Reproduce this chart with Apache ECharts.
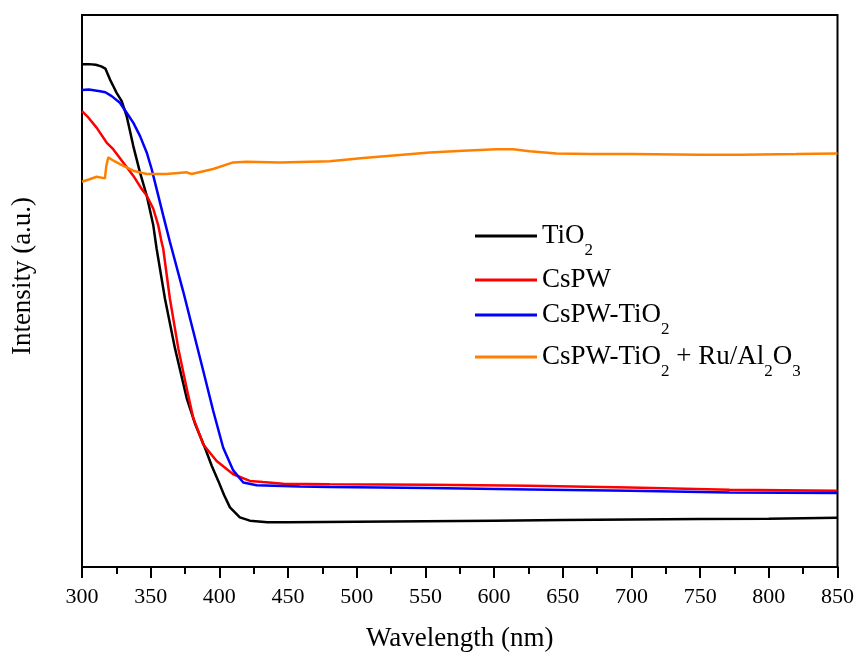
<!DOCTYPE html>
<html>
<head>
<meta charset="utf-8">
<script src="https://cdn.jsdelivr.net/npm/echarts@6/dist/echarts.min.js"></script>
<style>
html,body{margin:0;padding:0;background:#fff;}
#chart{width:857px;height:657px;}
</style>
</head>
<body>
<div id="chart"></div>
<script>
// Wavelength ticks
const xTicks = [300, 350, 400, 450, 500, 550, 600, 650, 700, 750, 800, 850];

// TiO2
const tio2X = [300, 305, 310, 314, 317, 320.4, 323, 325.2, 328.9, 332.5, 337.3, 342.2, 347.1, 351.9, 354.3, 360.4, 367.7, 376.2, 382.5, 389.5, 394.5, 399.2, 403.5, 407.7, 414.9, 422.2, 435, 450, 500, 550, 600, 650, 700, 750, 800, 850];
const tio2Y = [91.1, 91.1, 91.0, 90.7, 90.3, 88.3, 87.0, 85.9, 84.4, 81.7, 76.3, 71.5, 67.3, 61.9, 57.7, 48.6, 39.6, 30.6, 25.8, 21.6, 18.3, 15.6, 13.0, 10.8, 9.0, 8.4, 8.1, 8.1, 8.2, 8.3, 8.4, 8.5, 8.6, 8.7, 8.75, 8.9];

// CsPW
const cspwX = [300, 304, 310.6, 317.9, 322.7, 330, 337.3, 343.4, 347.1, 351.9, 355.5, 357.9, 359.1, 364.0, 370.1, 376.2, 381.0, 388.3, 398.0, 410.1, 422.2, 431.7, 446.5, 480.4, 553.2, 625.9, 698.7, 771.4, 850];
const cspwY = [82.6, 81.6, 79.6, 76.9, 75.7, 73.3, 70.9, 68.5, 67.3, 64.9, 61.9, 58.9, 57.7, 48.6, 39.6, 32.4, 27.0, 22.2, 19.2, 16.8, 15.6, 15.4, 15.1, 15.0, 14.9, 14.7, 14.4, 14.0, 13.8];

// CsPW-TiO2
const cspwTiX = [300, 305, 313.1, 317, 321.6, 327.6, 332.5, 337.3, 342.2, 347.1, 350.7, 354.3, 359.1, 364.0, 365.3, 373.7, 381.0, 388.3, 395.5, 402.8, 410.1, 417.4, 427.1, 458.6, 480.4, 553.2, 625.9, 698.7, 771.4, 850];
const cspwTiY = [86.4, 86.5, 86.2, 86.0, 85.3, 84.1, 82.3, 80.5, 78.1, 75.1, 72.1, 68.5, 63.7, 58.9, 57.7, 49.9, 42.7, 35.5, 28.3, 21.6, 17.5, 15.3, 14.8, 14.6, 14.5, 14.3, 14.05, 13.8, 13.5, 13.4];

// CsPW-TiO2 + Ru/Al2O3
const ruX = [300, 305, 310.7, 316.7, 317.6, 319.1, 323, 327.6, 337.3, 347.1, 361.6, 376.2, 377.4, 379.8, 395.5, 410.1, 419.8, 444.1, 480.4, 504.7, 529.0, 553.2, 577.4, 601.7, 613.8, 625.9, 645.4, 669.6, 700, 750, 780, 820, 850];
const ruY = [69.8, 70.2, 70.7, 70.4, 72.5, 74.2, 73.6, 73.0, 71.8, 71.2, 71.2, 71.5, 71.8, 71.2, 72.1, 73.3, 73.4, 73.3, 73.5, 74.1, 74.6, 75.1, 75.4, 75.7, 75.7, 75.3, 74.9, 74.8, 74.8, 74.7, 74.7, 74.8, 74.9];

const seriesNames = ['TiO2', 'CsPW', 'CsPW-TiO2', 'CsPW-TiO2 + Ru/Al2O3'];
const legendLabels = ['TiO{s|2}', 'CsPW', 'CsPW-TiO{s|2}', 'CsPW-TiO{s|2} + Ru/Al{s|2}O{s|3}'];
const colors = ['#000000', '#ff0000', '#0000ff', '#ff8000'];

const pair = (xs, ys) => xs.map((x, i) => [x, ys[i]]);
const allData = [pair(tio2X, tio2Y), pair(cspwX, cspwY), pair(cspwTiX, cspwTiY), pair(ruX, ruY)];

const font = '"Liberation Serif", "Times New Roman", serif';
const legendCenters = [236, 280, 315, 357];

const chart = echarts.init(document.getElementById('chart'), null, {renderer: 'canvas'});
chart.setOption({
  backgroundColor: '#ffffff',
  animation: false,
  grid: {left: 82, right: 19, top: 15, bottom: 87, show: true, borderColor: '#000', borderWidth: 2, backgroundColor: 'transparent'},
  xAxis: {
    type: 'value', min: 300, max: 850, interval: 50,
    name: 'Wavelength (nm)', nameLocation: 'middle', nameGap: 58,
    nameTextStyle: {fontFamily: font, fontSize: 27, color: '#000'},
    axisLine: {show: true, lineStyle: {color: '#000', width: 2}},
    axisTick: {show: true, inside: false, length: 11, lineStyle: {color: '#000', width: 2}},
    minorTick: {show: true, splitNumber: 2, length: 7, lineStyle: {color: '#000', width: 2}},
    axisLabel: {fontFamily: font, fontSize: 22, color: '#000', margin: 19,
      formatter: v => xTicks.includes(v) ? String(v) : ''},
    splitLine: {show: false}
  },
  yAxis: {
    type: 'value', min: 0, max: 100,
    name: 'Intensity (a.u.)', nameLocation: 'middle', nameGap: 46, nameRotate: 90,
    nameTextStyle: {fontFamily: font, fontSize: 27, color: '#000', padding: [0, 0, 0, 30]},
    axisLine: {show: true, lineStyle: {color: '#000', width: 2}},
    axisTick: {show: false}, axisLabel: {show: false}, splitLine: {show: false}
  },
  legend: seriesNames.map((n, i) => ({
    data: [n], left: 475, top: legendCenters[i] - 20, orient: 'vertical', padding: 0,
    icon: 'rect', itemWidth: 62, itemHeight: 3,
    formatter: () => legendLabels[i],
    textStyle: {fontFamily: font, fontSize: 27, color: '#000', lineHeight: 40,
      rich: {s: {fontFamily: font, fontSize: 17, color: '#000', padding: [30, 0, 0, 0]}}}
  })),
  series: seriesNames.map((n, i) => ({
    name: n, type: 'line', data: allData[i], showSymbol: false, symbol: 'none',
    lineStyle: {color: colors[i], width: 2.5}, itemStyle: {color: colors[i]}
  }))
});
</script>
</body>
</html>
